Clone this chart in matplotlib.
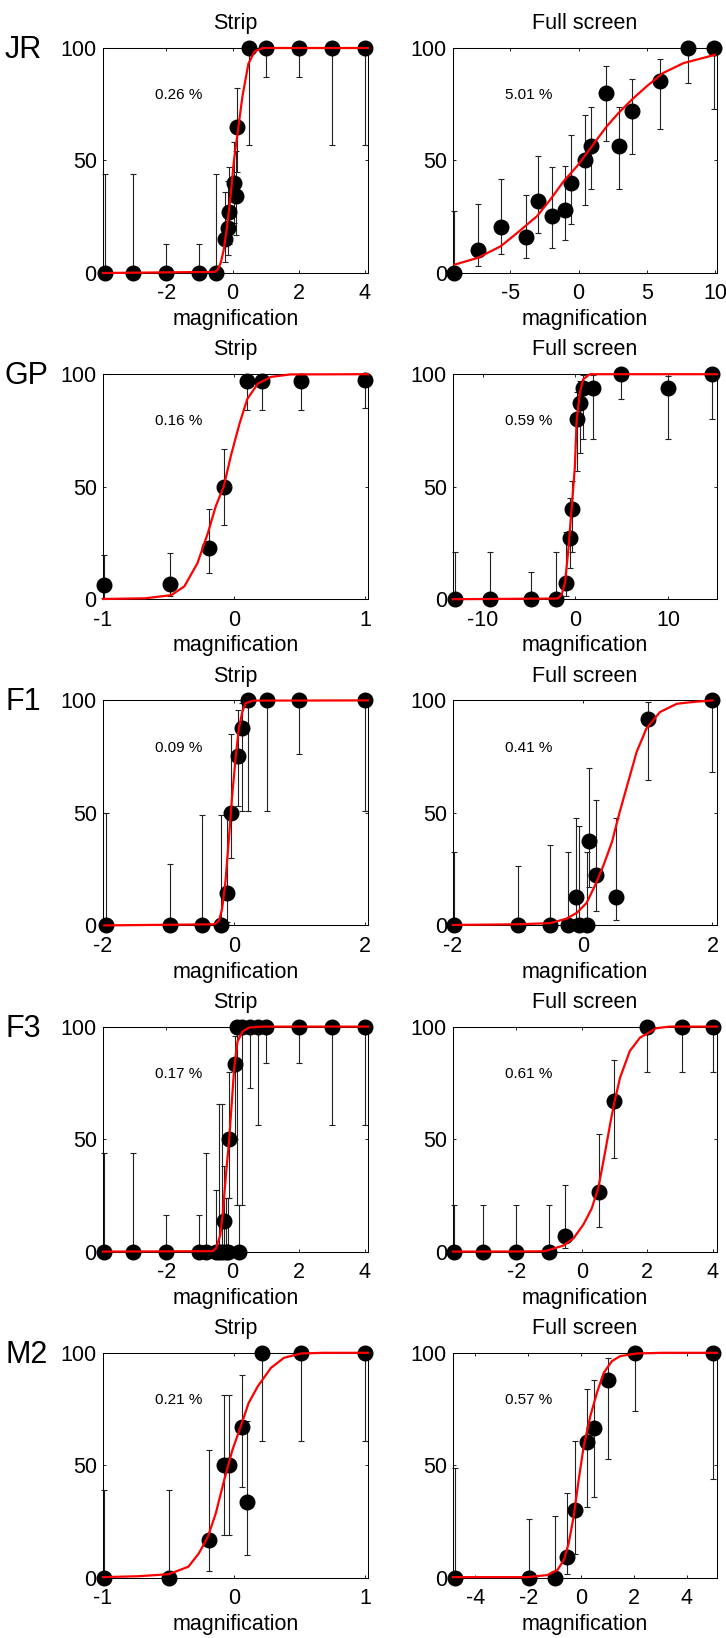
import matplotlib
matplotlib.use('Agg')
import matplotlib.pyplot as plt
import numpy as np

plt.rcParams['font.family'] = ['Liberation Sans', 'DejaVu Sans']
plt.rcParams['axes.unicode_minus'] = False

subjects = ['JR', 'GP', 'F1', 'F3', 'M2']
conditions = ['Strip', 'Full screen']
x_label = 'magnification'
thresholds = ['0.26 %', '5.01 %', '0.16 %', '0.59 %', '0.09 %',
              '0.41 %', '0.17 %', '0.61 %', '0.21 %', '0.57 %']

# ---- JR Strip
jr_s_x = [-3.87, -3, -2, -1, -0.5, -0.22, -0.15, -0.1, 0.05, 0.1, 0.15, 0.5, 1, 2, 3, 4]
jr_s_y = [0, 0, 0, 0, 0, 15, 20, 27, 40, 34, 65, 100, 100, 100, 100, 100]
jr_s_lo = [0, 0, 0, 0, 0, 5, 8, 13, 22, 17, 45, 57, 87, 87, 57, 57]
jr_s_hi = [44, 44, 13, 13, 44, 36, 41, 47, 58, 54, 82, 100, 100, 100, 100, 100]
jr_s_fx = [-3.92, -0.54, -0.45, -0.36, -0.27, -0.18, -0.06, 0.04, 0.17, 0.3, 0.48, 0.67, 0.92, 4.1]
jr_s_fy = [0, 0.5, 1.5, 4.4, 10, 19, 34, 49.6, 64, 78.5, 93, 98.5, 100, 100]
jr_s_xlim = [-3.92, 4.1]
jr_s_xt = [-2, 0, 2, 4]

# ---- JR Full screen
jr_f_x = [-9.1, -7.4, -5.7, -3.85, -2.95, -1.95, -0.98, -0.54, 0.5, 0.9, 2, 3, 3.9, 6, 8, 9.9]
jr_f_y = [0, 10.4, 20.3, 16, 31.9, 25.2, 28.1, 40, 50.4, 56.3, 80, 56.3, 72.1, 85.2, 100, 100]
jr_f_lo = [0, 3.3, 8.6, 6.5, 17.8, 11.1, 14.5, 21.9, 30.1, 37.5, 58.8, 37.3, 53, 64.1, 84.4, 72.9]
jr_f_hi = [27.7, 30.7, 41.8, 34.8, 51.9, 47.1, 47.7, 61.5, 70.4, 73.6, 92.1, 73.6, 86.2, 95.1, 100, 100]
jr_f_fx = [-9.1, -7.4, -5.7, -4.5, -3.05, -2.07, -1.1, -0.12, 0.61, 1.34, 2.07, 2.93, 3.9, 5.0, 6.2, 7.7, 9.15, 10.0]
jr_f_fy = [3.7, 6.7, 11.9, 17.8, 25.2, 32.6, 40.7, 47.4, 53.3, 59.3, 65.2, 71.1, 77, 83, 88.9, 93.3, 95.6, 97]
jr_f_xlim = [-9.2, 10.15]
jr_f_xt = [-5, 0, 5, 10]

# ---- GP Strip
gp_s_x = [-0.99, -0.49, -0.19, -0.08, 0.1, 0.21, 0.51, 1.0]
gp_s_y = [6.1, 6.7, 22.8, 50, 96.9, 96.9, 96.9, 97.6]
gp_s_lo = [0.5, 1.5, 11.6, 33, 84.2, 84.2, 84.2, 85]
gp_s_hi = [19.5, 20.6, 40, 66.8, 99.8, 99.8, 99.8, 99.9]
gp_s_fx = [-1.0, -0.68, -0.48, -0.38, -0.28, -0.2, -0.14, -0.08, -0.025, 0.04, 0.1, 0.18, 0.28, 0.43, 1.02]
gp_s_fy = [0.1, 0.4, 1.8, 5.7, 16, 29.5, 41.4, 50, 63.8, 77.9, 89, 95.8, 98.8, 99.9, 100]
gp_s_xlim = [-1.0, 1.02]
gp_s_xt = [-1, 0, 1]

# ---- GP Full screen
gp_f_x = [-13, -9.2, -4.8, -2.1, -1.0, -0.57, -0.4, 0.14, 0.5, 0.86, 1.94, 4.9, 10, 14.8]
gp_f_y = [0, 0, 0, 0, 7, 27, 40, 80, 87.4, 94, 94, 100, 94, 100]
gp_f_lo = [0, 0, 0, 0, 1.5, 14, 21, 57, 65, 71, 71, 89, 71, 80]
gp_f_hi = [21, 21, 12, 21, 30, 45, 52.5, 92, 97, 99.5, 99.5, 100, 99.3, 100]
gp_f_fx = [-13.2, -1.9, -1.47, -1.1, -0.75, -0.4, -0.04, 0.14, 0.5, 0.86, 1.58, 15.3]
gp_f_fy = [0, 0.3, 2, 7.4, 22, 40, 59, 79, 92, 97.8, 100, 100]
gp_f_xlim = [-13.2, 15.3]
gp_f_xt = [-10, 0, 10]

# ---- F1 Strip
f1_s_x = [-1.95, -0.97, -0.48, -0.19, -0.1, -0.04, 0.066, 0.127, 0.218, 0.51, 1.0, 2.0]
f1_s_y = [0, 0, 0, 0, 14.3, 50, 75.4, 87.6, 100, 100, 100, 100]
f1_s_lo = [0, 0, 0, 0, 1.5, 30, 52.9, 51, 51, 51, 76, 51]
f1_s_hi = [50, 27.3, 49.2, 49.2, 49, 85, 95.8, 99, 100, 100, 100, 100]
f1_s_fx = [-1.98, -0.3, -0.23, -0.18, -0.13, -0.08, -0.025, 0.025, 0.076, 0.13, 0.18, 0.3, 2.05]
f1_s_fy = [0, 0.5, 1.9, 7.2, 19, 37, 57.8, 74, 87.6, 95, 98.8, 99.9, 100]
f1_s_xlim = [-1.98, 2.05]
f1_s_xt = [-2, 0, 2]

# ---- F1 Full screen
f1_f_x = [-1.98, -1.0, -0.5, -0.22, -0.11, -0.056, 0.07, 0.1, 0.2, 0.51, 1.0, 2.0]
f1_f_y = [0, 0, 0, 0, 12.7, 0, 0, 37.7, 22.4, 12.7, 91.8, 100]
f1_f_lo = [0, 0, 0, 0, 3, 0, 0, 17, 6.3, 2.5, 64.7, 68]
f1_f_hi = [32.8, 26.4, 35.8, 32.8, 47.7, 44, 32.8, 69.8, 55.7, 47.7, 99.3, 100]
f1_f_fx = [-2.0, -1.0, -0.5, -0.25, -0.09, 0.06, 0.19, 0.32, 0.45, 0.57, 0.7, 0.83, 0.98, 1.19, 1.45, 1.7, 2.0]
f1_f_fy = [0.2, 0.5, 1, 3, 5.6, 10, 17.8, 26.7, 37, 50.4, 63.7, 77, 87.4, 94.8, 98.5, 99.3, 100]
f1_f_xlim = [-2.0, 2.07]
f1_f_xt = [-2, 0, 2]

# ---- F3 Strip
f3_s_x = [-3.88, -3, -2, -1, -0.8, -0.5, -0.42, -0.33, -0.27, -0.2, -0.15, -0.1, 0.07, 0.2, 0.15, 0.3, 0.52, 0.76, 1.0, 2, 3, 4]
f3_s_y = [0, 0, 0, 0, 0, 0, 0, 0, 13.4, 0, 0, 50, 83.4, 0, 100, 100, 100, 100, 100, 100, 100, 100]
f3_s_lo = [0, 0, 0, 0, 0, 0, 0, 0, 1.5, 0, 0, 23.8, 50, 0, 20.8, 20.8, 72.8, 56.4, 84, 84, 56.4, 56.4]
f3_s_hi = [43.8, 43.8, 16.3, 16.3, 43.8, 27.5, 65.8, 65.8, 37.9, 23.8, 23.8, 79.8, 95.8, 20.8, 100, 100, 100, 100, 100, 100, 100, 100]
f3_s_fx = [-3.92, -0.6, -0.5, -0.37, -0.3, -0.2, -0.1, -0.02, 0.05, 0.15, 0.3, 0.5, 0.9, 4.1]
f3_s_fy = [0, 0.2, 1.5, 7.4, 16.3, 34, 50, 66.7, 81.5, 93.3, 97.8, 99.6, 100, 100]
f3_s_xlim = [-3.92, 4.1]
f3_s_xt = [-2, 0, 2, 4]

# ---- F3 Full screen
f3_f_x = [-3.9, -3, -2, -1, -0.5, 0.53, 0.99, 2, 3.05, 4]
f3_f_y = [0, 0, 0, 0, 7, 26.7, 66.9, 100, 100, 100]
f3_f_lo = [0, 0, 0, 0, 1.8, 10.8, 41.6, 79.8, 79.8, 79.8]
f3_f_hi = [20.5, 20.5, 20.5, 20.5, 29.7, 52.3, 85, 100, 100, 100]
f3_f_fx = [-3.93, -1.3, -1.07, -0.56, -0.25, 0.05, 0.3, 0.51, 0.71, 0.91, 1.0, 1.17, 1.47, 1.78, 2.28, 2.69, 4.13]
f3_f_fy = [0, 0.1, 0.4, 2.7, 5.9, 12, 19, 28.5, 44, 60, 66.5, 77.3, 89.2, 95.1, 99.3, 100, 100]
f3_f_xlim = [-3.93, 4.13]
f3_f_xt = [-2, 0, 2, 4]

# ---- M2 Strip
m2_s_x = [-0.99, -0.5, -0.19, -0.08, -0.04, 0.06, 0.1, 0.21, 0.51, 1.0]
m2_s_y = [0, 0, 16.8, 50.2, 50.2, 66.9, 33.6, 100, 100, 100]
m2_s_lo = [0, 0, 3, 19, 19, 40.3, 10.1, 60.9, 60.9, 60.9]
m2_s_hi = [39.1, 39.1, 56.6, 81.4, 81.4, 90.3, 69.5, 100, 100, 100]
m2_s_fx = [-1.0, -0.73, -0.5, -0.35, -0.27, -0.2, -0.14, -0.076, -0.013, 0.05, 0.11, 0.18, 0.28, 0.38, 0.51, 0.68, 1.02]
m2_s_fy = [0.3, 0.7, 1.6, 4.9, 10.8, 18.3, 28.7, 43.5, 56.9, 67.3, 77.7, 85.1, 93.3, 97.8, 99.7, 100, 100]
m2_s_xlim = [-1.0, 1.02]
m2_s_xt = [-1, 0, 1]

# ---- M2 Full screen
m2_f_x = [-4.78, -1.97, -1.0, -0.53, -0.21, 0.23, 0.48, 1.04, 2.05, 5.0]
m2_f_y = [0, 0, 0, 9.1, 30.2, 60.2, 66.6, 87.7, 100, 100]
m2_f_lo = [0, 0, 0, 1.9, 10.8, 31.4, 35.7, 52.7, 74.3, 43.8]
m2_f_hi = [49, 26.2, 27.6, 37.9, 60.6, 83.7, 88.1, 97.8, 100, 100]
m2_f_fx = [-4.85, -2.04, -1.28, -0.9, -0.65, -0.47, -0.28, -0.09, 0.1, 0.35, 0.6, 0.86, 1.17, 1.48, 2.1, 3.1, 5.15]
m2_f_fy = [0.3, 0.3, 1.2, 3.4, 7.9, 15.3, 27.2, 43.5, 58.4, 71.8, 82.2, 91.1, 96.3, 98.5, 99.7, 100, 100]
m2_f_xlim = [-4.85, 5.15]
m2_f_xt = [-4, -2, 0, 2, 4]

panels = [
    (jr_s_x, jr_s_y, jr_s_lo, jr_s_hi, jr_s_fx, jr_s_fy, jr_s_xlim, jr_s_xt),
    (jr_f_x, jr_f_y, jr_f_lo, jr_f_hi, jr_f_fx, jr_f_fy, jr_f_xlim, jr_f_xt),
    (gp_s_x, gp_s_y, gp_s_lo, gp_s_hi, gp_s_fx, gp_s_fy, gp_s_xlim, gp_s_xt),
    (gp_f_x, gp_f_y, gp_f_lo, gp_f_hi, gp_f_fx, gp_f_fy, gp_f_xlim, gp_f_xt),
    (f1_s_x, f1_s_y, f1_s_lo, f1_s_hi, f1_s_fx, f1_s_fy, f1_s_xlim, f1_s_xt),
    (f1_f_x, f1_f_y, f1_f_lo, f1_f_hi, f1_f_fx, f1_f_fy, f1_f_xlim, f1_f_xt),
    (f3_s_x, f3_s_y, f3_s_lo, f3_s_hi, f3_s_fx, f3_s_fy, f3_s_xlim, f3_s_xt),
    (f3_f_x, f3_f_y, f3_f_lo, f3_f_hi, f3_f_fx, f3_f_fy, f3_f_xlim, f3_f_xt),
    (m2_s_x, m2_s_y, m2_s_lo, m2_s_hi, m2_s_fx, m2_s_fy, m2_s_xlim, m2_s_xt),
    (m2_f_x, m2_f_y, m2_f_lo, m2_f_hi, m2_f_fx, m2_f_fy, m2_f_xlim, m2_f_xt),
]

W, H = 726, 1638
fig = plt.figure(figsize=(W / 100, H / 100), dpi=100)

col_left = [103, 453]
col_w = [265, 264]
row_top0 = 48
row_step = 326.2
ax_h = 225

FS = 15.5

for i, p in enumerate(panels):
    x, y, lo, hi, fx, fy, xlim, xt = [np.asarray(v, float) if k < 6 else v for k, v in enumerate(p)]
    r, c = divmod(i, 2)
    top = row_top0 + r * row_step
    ax = fig.add_axes([col_left[c] / W, 1 - (top + ax_h) / H, col_w[c] / W, ax_h / H])
    yerr = np.vstack([y - lo, hi - y])
    eb = ax.errorbar(x, y, yerr=yerr, fmt='none', ecolor='#222222', elinewidth=0.8,
                     capsize=2.2, capthick=0.8, zorder=2)
    for art in list(eb.lines[1]) + list(eb.lines[2]):
        art.set_clip_on(False)
    ax.plot(x, y, 'o', ms=10.5, color='black', clip_on=False, zorder=3)
    ax.plot(fx, fy, '-', color='red', lw=1.6, clip_on=False, zorder=4)
    ax.set_xlim(*xlim)
    ax.set_ylim(0, 100)
    ax.set_xticks(xt)
    ax.set_yticks([0, 50, 100])
    ax.tick_params(direction='in', length=2.2, width=0.6, top=True, right=True,
                   labelsize=FS)
    ax.tick_params(axis='x', pad=7.5)
    ax.tick_params(axis='y', pad=4.5)
    for s in ax.spines.values():
        s.set_linewidth(0.75)
    ax.set_title(conditions[c], fontsize=FS, pad=13.5)
    ax.set_xlabel(x_label, fontsize=FS, labelpad=3.5)
    ax.text(0.197, 0.79, thresholds[i], transform=ax.transAxes, fontsize=11,
            ha='left', va='center')
    if c == 0:
        fig.text(5 / W, 1 - (top + 2) / H, subjects[r], fontsize=22,
                 ha='left', va='center')

fig.savefig('out.png', dpi=100)
